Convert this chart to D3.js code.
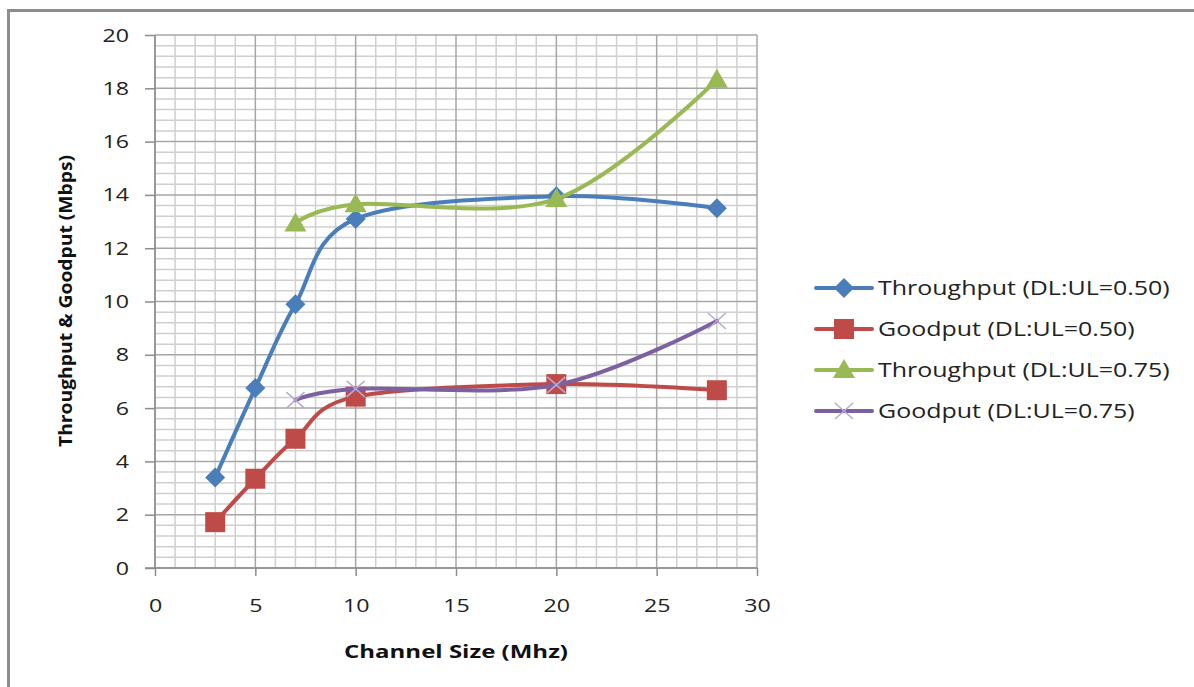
<!DOCTYPE html>
<html><head><meta charset="utf-8">
<script src="https://cdn.jsdelivr.net/npm/d3@7"></script>
<style>body{margin:0;background:#fff}svg{display:block}</style>
</head><body>
<script>
const xTicks = [0,5,10,15,20,25,30];
const yTicks = [0,2,4,6,8,10,12,14,16,18,20];
const seriesNames = ["Throughput (DL:UL=0.50)","Goodput (DL:UL=0.50)","Throughput (DL:UL=0.75)","Goodput (DL:UL=0.75)"];
const x050 = [3,5,7,10,20,28];
const x075 = [7,10,20,28];
const thr050 = [3.4,6.75,9.9,13.1,13.95,13.5];
const good050 = [1.72,3.35,4.85,6.43,6.9,6.67];
const thr075 = [12.93,13.65,13.85,18.32];
const good075 = [6.3,6.72,6.87,9.27];
const colors = ["#4a7ebb","#be4b48","#98b954","#7d60a0"];
const markers = ["diamond","square","triangle","cross"];

const W=1194,H=687;
const svg=d3.select("body").append("svg").attr("width",W).attr("height",H);
svg.append("rect").attr("x",8.5).attr("y",10.5).attr("width",W+20).attr("height",H+20)
  .attr("fill","#fff").attr("stroke","#8c8c8c").attr("stroke-width",3);

function stretch(sel,k){ sel.each(function(){ const L=this.getComputedTextLength(); d3.select(this).attr("textLength",L*k).attr("lengthAdjust","spacingAndGlyphs"); }); }

const x=d3.scaleLinear().domain([0,30]).range([155,757]);
const y=d3.scaleLinear().domain([0,20]).range([568,35]);
const g=svg.append("g");
d3.range(0,30.01,1).forEach(v=>{ if(v%5!==0) g.append("line").attr("x1",x(v)).attr("x2",x(v)).attr("y1",y(0)).attr("y2",y(20)).attr("stroke","#cfcfcf").attr("stroke-width",1.5);});
d3.range(0,20.01,0.4).forEach(v=>{ const r=Math.round(v*10)/10; if(Math.abs(r/2-Math.round(r/2))>1e-6) g.append("line").attr("x1",x(0)).attr("x2",x(30)).attr("y1",y(r)).attr("y2",y(r)).attr("stroke","#cfcfcf").attr("stroke-width",1.5);});
xTicks.forEach(v=>g.append("line").attr("x1",x(v)).attr("x2",x(v)).attr("y1",y(0)).attr("y2",y(20)).attr("stroke","#a6a6a6").attr("stroke-width",1.5));
yTicks.forEach(v=>g.append("line").attr("x1",x(0)).attr("x2",x(30)).attr("y1",y(v)).attr("y2",y(v)).attr("stroke","#a6a6a6").attr("stroke-width",1.5));

const yAxis=d3.axisLeft(y).tickValues(yTicks).tickSize(10).tickPadding(16);
const xAxis=d3.axisBottom(x).tickValues(xTicks).tickSize(8).tickPadding(23);
const ya=svg.append("g").attr("transform",`translate(${x(0)},0)`).call(yAxis);
const xa=svg.append("g").attr("transform",`translate(0,${y(0)})`).call(xAxis);
[ya,xa].forEach(a=>{a.select(".domain").remove();
 a.selectAll(".tick line").attr("stroke","#8c8c8c").attr("stroke-width",1.5);
 a.selectAll("text").attr("font-family","Open Sans").attr("font-size",19).attr("fill","#222");
 stretch(a.selectAll("text"),1.22);});
xa.append("line").attr("x1",x(0)-10).attr("x2",x(30)).attr("stroke","#8c8c8c").attr("stroke-width",1.5);
ya.append("line").attr("y1",y(0)).attr("y2",y(20)).attr("stroke","#8c8c8c").attr("stroke-width",1.5);

const xt=svg.append("text").attr("x",456).attr("y",658).attr("text-anchor","middle")
 .attr("font-family","Open Sans").attr("font-weight","bold").attr("font-size",18.5).attr("fill","#111").text("Channel Size (Mhz)");
xt.attr("textLength",224).attr("lengthAdjust","spacingAndGlyphs");
const yt=svg.append("text").attr("transform","translate(72,301) rotate(-90)").attr("text-anchor","middle")
 .attr("font-family","Open Sans").attr("font-weight","bold").attr("font-size",18.5).attr("fill","#111").text("Throughput & Goodput (Mbps)");
yt.attr("textLength",292).attr("lengthAdjust","spacingAndGlyphs");

const data=[x050.map((d,i)=>[d,thr050[i]]),x050.map((d,i)=>[d,good050[i]]),x075.map((d,i)=>[d,thr075[i]]),x075.map((d,i)=>[d,good075[i]])];
const line=d3.line().x(d=>x(d[0])).y(d=>y(d[1])).curve(d3.curveCardinal.tension(0));

function marker(sel,type,cx,cy,c){
  if(type==="diamond") sel.append("path").attr("d",`M${cx},${cy-10}L${cx+10},${cy}L${cx},${cy+10}L${cx-10},${cy}Z`).attr("fill",c);
  else if(type==="square") sel.append("rect").attr("x",cx-10).attr("y",cy-10).attr("width",20).attr("height",20).attr("fill",c);
  else if(type==="triangle") sel.append("path").attr("d",`M${cx},${cy-11}L${cx+11},${cy+8}L${cx-11},${cy+8}Z`).attr("fill",c);
  else { sel.append("path").attr("d",`M${cx-9},${cy-8}L${cx+9},${cy+8}M${cx-9},${cy+8}L${cx+9},${cy-8}`).attr("stroke","#b9a8d6").attr("stroke-width",1.5).attr("fill","none"); }
}
data.forEach((s,i)=>{
  svg.append("path").datum(s).attr("d",line).attr("fill","none").attr("stroke",colors[i]).attr("stroke-width",4).attr("stroke-linecap","round");
  s.forEach(d=>marker(svg,markers[i],x(d[0]),y(d[1]),colors[i]));
});

const ly=[288,329,370,411];
seriesNames.forEach((n,i)=>{
  svg.append("line").attr("x1",816).attr("x2",872).attr("y1",ly[i]).attr("y2",ly[i]).attr("stroke",colors[i]).attr("stroke-width",4).attr("stroke-linecap","round");
  marker(svg,markers[i],844,ly[i],colors[i]);
  const t=svg.append("text").attr("x",878).attr("y",ly[i]+7).attr("font-family","Open Sans").attr("font-size",19.5).attr("fill","#222").text(n);
  stretch(t,1.28);
});
</script>
</body></html>
